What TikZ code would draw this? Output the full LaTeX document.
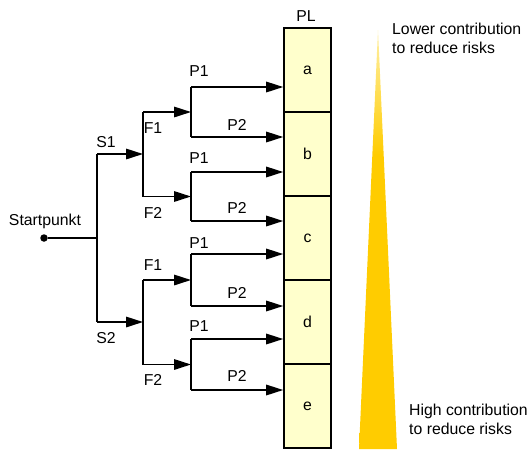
\documentclass[tikz,border=0pt]{standalone}
\usepackage{fontspec}
\setmainfont{Liberation Sans}
\usetikzlibrary{arrows.meta}
\definecolor{plfill}{HTML}{FFFFCC}
\definecolor{gold}{HTML}{FFCC00}
\definecolor{paleg}{HTML}{FFF0A8}
\pgfdeclareverticalshading{trishade}{100bp}{color(0bp)=(gold); color(25bp)=(gold); color(60bp)=(gold); color(75bp)=(paleg); color(100bp)=(paleg)}
\begin{document}
\begin{tikzpicture}[x=1pt,y=-1pt,
  line/.style={line width=1.6pt,black},
  arr/.style={line, -{Triangle[length=17pt,width=10.5pt]}},
  lbl/.style={font=\fontsize{15.8}{18.5}\selectfont, inner sep=0pt},
  cell/.style={draw, line width=1.6pt, fill=plfill, minimum width=47pt, minimum height=84pt, inner sep=0pt, font=\fontsize{15.8}{18.5}\selectfont}]
\useasboundingbox (0,0) rectangle (530,451);
% triangle
\shade[shading=trishade] (378,30) -- (397,449) -- (359,449) -- cycle;
% PL cells
\node[cell] (a) at (307.5,70) {a};
\node[cell] (b) at (307.5,154) {b};
\node[cell] (c) at (307.5,238) {c};
\node[cell] (d) at (307.5,322) {d};
\node[cell] (e) at (307.5,406) {e};
\node[lbl] (pl) at (306,16) {PL};
% start
\node[circle, fill=black, inner sep=0pt, minimum size=7.5pt] (st) at (44,238) {};
\node[lbl] (stl) at (45,221) {Startpunkt};
\coordinate (sj) at (97,238);
\coordinate (s1) at (97,154);
\coordinate (s2) at (97,322);
\coordinate (fu) at (143,154);
\coordinate (fl) at (143,322);
\coordinate (fa) at (143,112);
\coordinate (fb) at (143,196.5);
\coordinate (fc) at (143,280);
\coordinate (fd) at (143,364.5);
\coordinate (pa) at (191,112);
\coordinate (pb) at (191,196.5);
\coordinate (pc) at (191,280);
\coordinate (pd) at (191,364.5);
\coordinate (pa1) at (191,87);  \coordinate (pa2) at (191,137);
\coordinate (pb1) at (191,172); \coordinate (pb2) at (191,221);
\coordinate (pc1) at (191,254); \coordinate (pc2) at (191,306);
\coordinate (pd1) at (191,339); \coordinate (pd2) at (191,390);
% connectors
\draw[line] (st) -- (sj);
\draw[line] (s1) -- (s2);
\draw[arr] (s1) -- (fu);
\draw[arr] (s2) -- (fl);
\draw[line] (fa) -- (fb);
\draw[line] (fc) -- (fd);
\draw[arr] (fa) -- (pa);
\draw[arr] (fb) -- (pb);
\draw[arr] (fc) -- (pc);
\draw[arr] (fd) -- (pd);
\draw[line] (pa1) -- (pa2);
\draw[line] (pb1) -- (pb2);
\draw[line] (pc1) -- (pc2);
\draw[line] (pd1) -- (pd2);
\draw[arr] (pa1) -- (pa1 -| a.west);
\draw[arr] (pa2) -- (pa2 -| a.west);
\draw[arr] (pb1) -- (pb1 -| b.west);
\draw[arr] (pb2) -- (pb2 -| b.west);
\draw[arr] (pc1) -- (pc1 -| c.west);
\draw[arr] (pc2) -- (pc2 -| c.west);
\draw[arr] (pd1) -- (pd1 -| d.west);
\draw[arr] (pd2) -- (pd2 -| d.west);
% labels
\node[lbl] (ls1) at (106,142) {S1};
\node[lbl] (ls2) at (106,338) {S2};
\node[lbl] (lf1a) at (153,128) {F1};
\node[lbl] (lf2a) at (153,213) {F2};
\node[lbl] (lf1b) at (153,265) {F1};
\node[lbl] (lf2b) at (153,380) {F2};
\node[lbl] (lp1a) at (199,71) {P1};
\node[lbl] (lp1b) at (199,158) {P1};
\node[lbl] (lp1c) at (199,243) {P1};
\node[lbl] (lp1d) at (199,326) {P1};
\node[lbl] (lp2a) at (237,125) {P2};
\node[lbl] (lp2b) at (237,208) {P2};
\node[lbl] (lp2c) at (237,293) {P2};
\node[lbl] (lp2d) at (237,376) {P2};
\node[lbl, anchor=north west, align=left] (low) at (392,23) {Lower contribution\\to reduce risks};
\node[lbl, anchor=north west, align=left] (high) at (409,404) {High contribution\\to reduce risks};
\end{tikzpicture}
\end{document}
